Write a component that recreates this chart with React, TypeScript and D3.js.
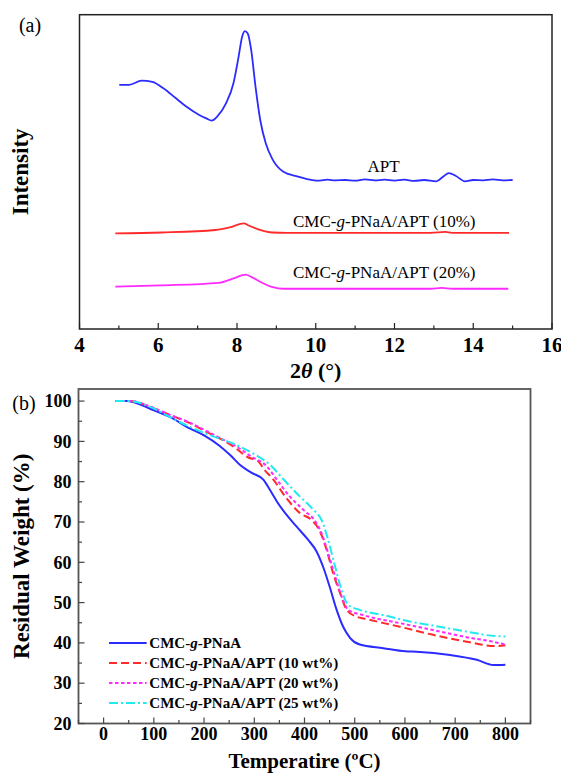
import React from "react";
import * as d3 from "d3";

// ---------- Panel (a): XRD ----------
const xrdTicks = [4, 6, 8, 10, 12, 14, 16];
const xrdApt: [number, number][] = [
  [5.01, 77.7], [5.26, 77.7], [5.58, 79.0], [5.85, 78.6], [6.13, 76.6], [6.45, 73.4],
  [6.72, 70.7], [7.04, 68.1], [7.22, 67.0], [7.36, 66.3], [7.49, 67.5], [7.72, 71.8],
  [7.91, 78.2], [8.04, 86.6], [8.13, 93.0], [8.2, 94.8], [8.27, 94.1], [8.36, 88.8],
  [8.47, 77.1], [8.59, 66.5], [8.73, 59.1], [8.91, 53.8], [9.18, 50.0], [9.55, 48.5],
  [9.91, 47.4], [10.1, 47.2], [10.3, 47.5], [10.5, 47.3], [10.75, 47.4], [11.0, 47.2],
  [11.25, 47.6], [11.5, 47.3], [11.75, 47.5], [12.0, 47.2], [12.25, 47.5], [12.5, 47.1],
  [12.75, 47.4], [13.06, 47.0], [13.24, 48.5], [13.38, 49.6], [13.56, 48.7], [13.79, 47.0],
  [14.0, 47.4], [14.25, 47.3], [14.5, 47.6], [14.75, 47.3], [15.0, 47.4],
];
const xrd10: [number, number][] = [
  [4.91, 30.4], [6.08, 30.7], [7.45, 31.5], [7.81, 32.3], [8.18, 33.6], [8.27, 33.1],
  [8.54, 31.7], [8.91, 30.7], [9.27, 30.6], [12.92, 30.6], [13.29, 30.9], [13.47, 30.6],
  [14.91, 30.6],
];
const xrd20: [number, number][] = [
  [4.91, 13.5], [6.08, 13.9], [7.54, 14.7], [7.91, 16.1], [8.22, 17.3], [8.36, 16.6],
  [8.64, 14.7], [8.91, 13.3], [9.18, 12.8], [12.92, 12.8], [13.2, 13.1], [13.47, 12.8],
  [14.89, 12.8],
];
const xrdLabels = [
  { x: 11.72, y: 49.8, pre: "APT", mid: "", post: "" },
  { x: 11.74, y: 32.5, pre: "CMC-", mid: "g", post: "-PNaA/APT (10%)" },
  { x: 11.74, y: 16.3, pre: "CMC-", mid: "g", post: "-PNaA/APT (20%)" },
];

// ---------- Panel (b): TGA ----------
const tgaXTicks = [0, 100, 200, 300, 400, 500, 600, 700, 800];
const tgaYTicks = [20, 30, 40, 50, 60, 70, 80, 90, 100];
const tgaNames = [
  "CMC-g-PNaA",
  "CMC-g-PNaA/APT (10 wt%)",
  "CMC-g-PNaA/APT (20 wt%)",
  "CMC-g-PNaA/APT (25 wt%)",
];
const tgaBase: [number, number][] = [
  [24, 100], [47, 100], [74, 99.1], [100, 97.7], [133, 96.0], [167, 93.5], [200, 91.5],
  [230, 89.0], [253, 86.5], [273, 84.0], [295, 82.2], [318, 80.5], [331, 78.0],
  [345, 75.1], [364, 71.8], [384, 68.9], [407, 65.6], [424, 62.7], [437, 58.9],
  [450, 54.0], [464, 48.2], [477, 44.0], [491, 41.2], [510, 39.6], [557, 38.7],
  [601, 37.9], [623, 37.8], [690, 37.0], [743, 35.8], [776, 34.5], [800, 34.6],
];
const tga10: [number, number][] = [
  [24, 100], [54, 100], [94, 98.5], [127, 96.8], [167, 94.8], [206, 92.3], [233, 90.6],
  [260, 88.6], [288, 86.0], [306, 85.3], [320, 83.0], [338, 80.5], [364, 75.9],
  [391, 72.2], [414, 70.5], [431, 67.6], [444, 63.1], [457, 57.3], [471, 52.3],
  [484, 48.2], [504, 46.5], [520, 46.0], [590, 44.0], [656, 42.0], [723, 40.3],
  [780, 39.2], [800, 39.4],
];
const tga20: [number, number][] = [
  [24, 100], [54, 100], [94, 98.6], [130, 96.7], [167, 94.9], [206, 92.5], [240, 90.3],
  [265, 88.7], [292, 86.4], [325, 83.8], [345, 80.5], [371, 76.3], [398, 73.0],
  [424, 69.7], [434, 67.2], [447, 62.3], [461, 56.5], [474, 51.5], [487, 48.2],
  [517, 46.9], [590, 44.9], [656, 43.2], [723, 41.4], [779, 40.2], [800, 39.6],
];
const tga25: [number, number][] = [
  [24, 100], [54, 100], [94, 98.5], [140, 95.5], [206, 91.8], [253, 89.7], [299, 86.9],
  [333, 84.0], [358, 80.6], [391, 76.3], [418, 73.0], [434, 70.5], [447, 65.6],
  [461, 58.9], [474, 53.1], [487, 49.4], [510, 48.2], [557, 46.9], [610, 45.3],
  [656, 44.3], [723, 42.8], [779, 41.7], [800, 41.6],
];

const FONT = "'Liberation Serif', 'Times New Roman', serif";

export default function App() {
  // panel (a) geometry
  const a = { l: 79.5, r: 552, t: 14.7, b: 329 };
  const xa = d3.scaleLinear().domain([4, 16]).range([a.l, a.r]);
  const ya = d3.scaleLinear().domain([0, 100]).range([a.b, a.t]);
  const lineA = d3
    .line<[number, number]>()
    .x((d) => xa(d[0]))
    .y((d) => ya(d[1]))
    .curve(d3.curveMonotoneX);
  const minorA = d3.range(5, 16, 2);

  // panel (b) geometry
  const b = { l: 78.5, r: 530.5, t: 389, b: 723.5 };
  const xb = d3.scaleLinear().domain([-50, 850]).range([b.l, b.r]);
  const yb = d3.scaleLinear().domain([20, 103]).range([b.b, b.t]);
  const lineB = d3
    .line<[number, number]>()
    .x((d) => xb(d[0]))
    .y((d) => yb(d[1]))
    .curve(d3.curveMonotoneX);
  const minorBX = d3.range(-50, 851, 100);
  const minorBY = d3.range(25, 101, 10);

  const tgaSeries = [
    { data: tgaBase, color: "#2b2bff", dash: "none" },
    { data: tga10, color: "#ff2a2a", dash: "8,4" },
    { data: tga20, color: "#ff2aff", dash: "3.5,2.5" },
    { data: tga25, color: "#22e8f0", dash: "9,3,2,3" },
  ];

  const legendX0 = xb(10.7);
  const legendX1 = xb(85.7);
  const legendTx = xb(91);
  const legendY0 = 643;

  return (
    <svg
      width={561}
      height={773}
      style={{ position: "absolute", left: 0, top: 0, background: "#fff" }}
      fontFamily={FONT}
    >
      <rect x={0} y={0} width={561} height={773} fill="#fff" />
      {/* ===== Panel (a) ===== */}
      <text x={30} y={32} fontSize={20} textAnchor="middle">(a)</text>
      <rect x={a.l} y={a.t} width={a.r - a.l} height={a.b - a.t} fill="none" stroke="#222" strokeWidth={1.5} />
      {xrdTicks.map((t) => (
        <g key={"xa" + t}>
          <line x1={xa(t)} x2={xa(t)} y1={a.b} y2={a.b - 6} stroke="#222" strokeWidth={1.2} />
          <text x={xa(t)} y={352} fontSize={21} fontWeight="bold" textAnchor="middle">{t}</text>
        </g>
      ))}
      {minorA.map((t) => (
        <line key={"ma" + t} x1={xa(t)} x2={xa(t)} y1={a.b} y2={a.b - 3.5} stroke="#222" strokeWidth={1.2} />
      ))}
      <text x={(a.l + a.r) / 2} y={378} fontSize={22} fontWeight="bold" textAnchor="middle">
        2<tspan fontStyle="italic">θ</tspan> (°)
      </text>
      <text
        transform={`translate(28, ${(a.t + a.b) / 2}) rotate(-90)`}
        fontSize={23}
        fontWeight="bold"
        textAnchor="middle"
      >
        Intensity
      </text>
      <path d={lineA(xrdApt) ?? ""} fill="none" stroke="#2b2bff" strokeWidth={1.8} />
      <path d={lineA(xrd10) ?? ""} fill="none" stroke="#ff2a2a" strokeWidth={1.8} />
      <path d={lineA(xrd20) ?? ""} fill="none" stroke="#ff2aff" strokeWidth={1.8} />
      {xrdLabels.map((l, i) => (
        <text key={"la" + i} x={xa(l.x)} y={ya(l.y)} fontSize={17} textAnchor="middle">
          {l.pre}
          {l.mid && <tspan fontStyle="italic">{l.mid}</tspan>}
          {l.post}
        </text>
      ))}

      {/* ===== Panel (b) ===== */}
      <text x={24} y={410} fontSize={20} textAnchor="middle">(b)</text>
      <rect x={b.l} y={b.t} width={b.r - b.l} height={b.b - b.t} fill="none" stroke="#555" strokeWidth={1.8} />
      {tgaXTicks.map((t) => (
        <g key={"xb" + t}>
          <line x1={xb(t)} x2={xb(t)} y1={b.b} y2={b.b - 6} stroke="#444" strokeWidth={1.2} />
          <text x={xb(t)} y={740} fontSize={18} fontWeight="bold" textAnchor="middle">{t}</text>
        </g>
      ))}
      {minorBX.map((t) => (
        <line key={"mbx" + t} x1={xb(t)} x2={xb(t)} y1={b.b} y2={b.b - 3.5} stroke="#444" strokeWidth={1.2} />
      ))}
      {tgaYTicks.map((t) => (
        <g key={"yb" + t}>
          <line x1={b.l} x2={b.l + 6} y1={yb(t)} y2={yb(t)} stroke="#444" strokeWidth={1.2} />
          <text x={b.l - 7} y={yb(t)} dy="0.35em" fontSize={18} fontWeight="bold" textAnchor="end">{t}</text>
        </g>
      ))}
      {minorBY.map((t) => (
        <line key={"mby" + t} x1={b.l} x2={b.l + 3.5} y1={yb(t)} y2={yb(t)} stroke="#444" strokeWidth={1.2} />
      ))}
      <text x={(b.l + b.r) / 2} y={768} fontSize={21} fontWeight="bold" textAnchor="middle">
        Temperatire (ºC)
      </text>
      <text
        transform={`translate(29, ${(b.t + b.b) / 2}) rotate(-90)`}
        fontSize={23}
        fontWeight="bold"
        textAnchor="middle"
      >
        Residual Weight (%)
      </text>
      {tgaSeries.map((s, i) => (
        <path
          key={"tga" + i}
          d={lineB(s.data) ?? ""}
          fill="none"
          stroke={s.color}
          strokeWidth={2}
          strokeDasharray={s.dash}
        />
      ))}
      {tgaSeries.map((s, i) => {
        const y = legendY0 + i * 20;
        const name = tgaNames[i];
        const idx = name.indexOf("-g-");
        return (
          <g key={"lg" + i}>
            <line x1={legendX0} x2={legendX1} y1={y} y2={y} stroke={s.color} strokeWidth={2} strokeDasharray={s.dash} />
            <text x={legendTx} y={y} dy="0.35em" fontSize={15} fontWeight="bold">
              {name.slice(0, idx + 1)}
              <tspan fontStyle="italic">g</tspan>
              {name.slice(idx + 2)}
            </text>
          </g>
        );
      })}
    </svg>
  );
}
